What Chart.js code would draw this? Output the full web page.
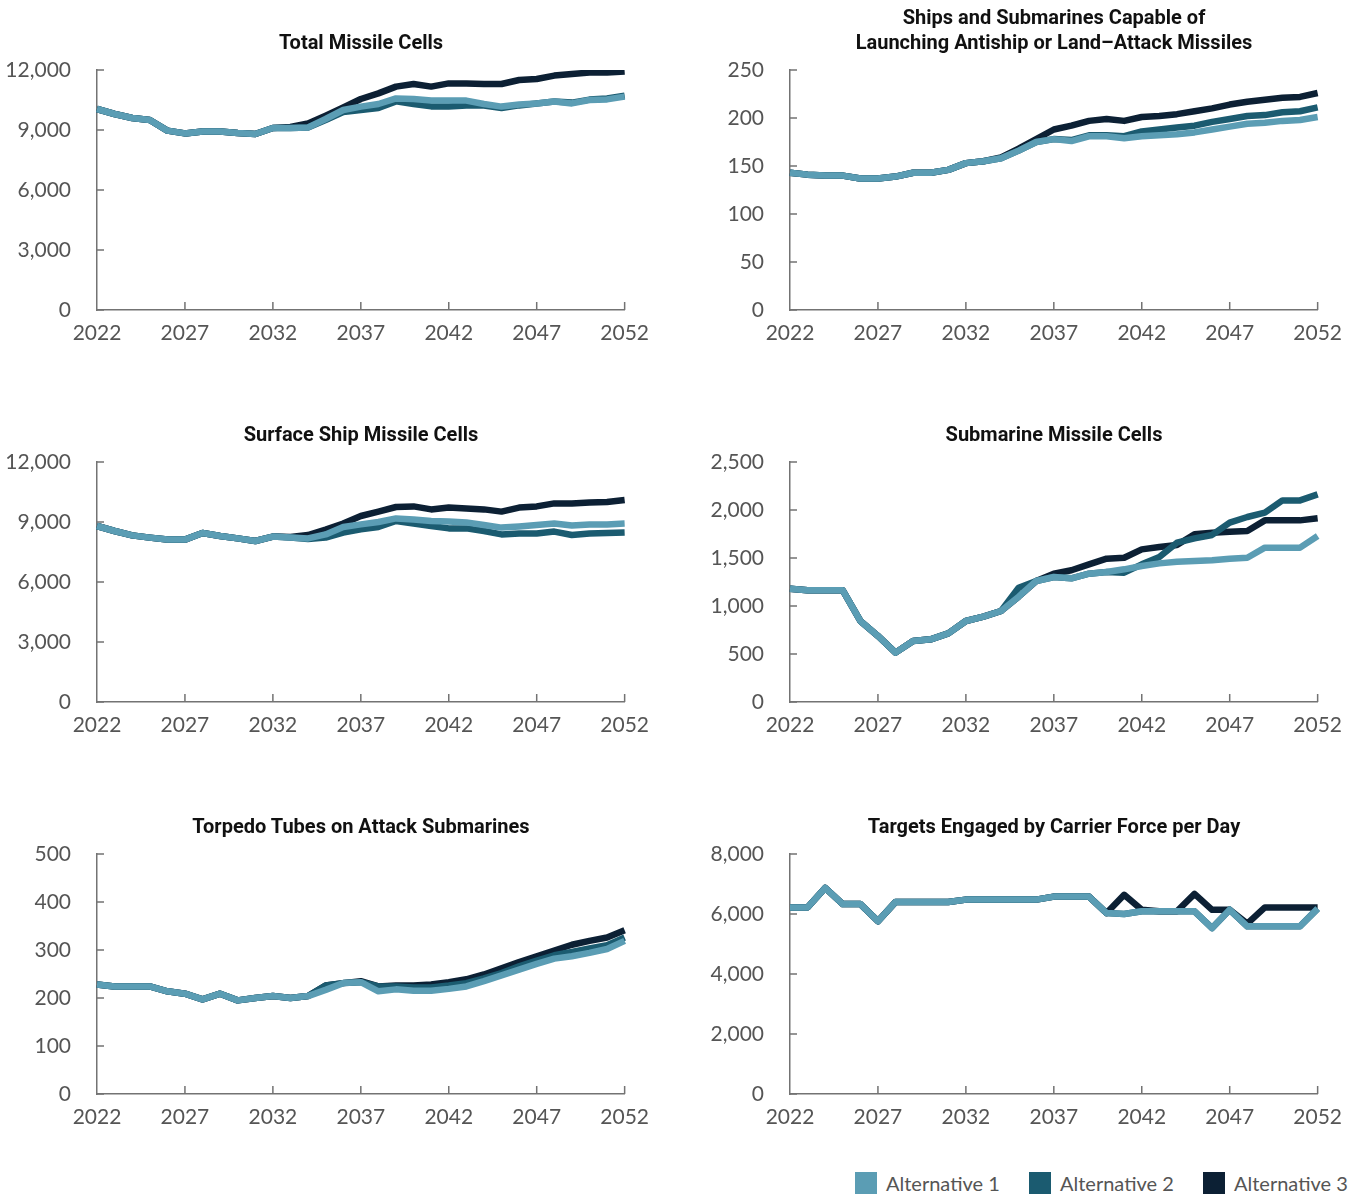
<!DOCTYPE html>
<html>
<head>
<meta charset="utf-8">
<script src="https://cdn.jsdelivr.net/npm/chart.js@4/dist/chart.umd.min.js"></script>
<style>
  body { margin: 0; background: #fff; }
  #wrap { position: relative; width: 1359px; height: 1196px; }
  .panel { position: absolute; width: 660px; height: 370px; }
  .title {
    position: absolute; width: 528px; left: 97px; text-align: center;
    font: 700 20px Roboto, sans-serif; color: #111; line-height: 25px;
  }
  .legend {
    position: absolute; left: 855px; top: 1171px; display: flex; white-space: nowrap;
    font: 400 20px Lato, sans-serif; color: #555;
  }
  .legend span.item { display: flex; align-items: center; flex: 0 0 174px; white-space: nowrap; }
  .legend i { display: inline-block; width: 22px; height: 22px; margin-right: 9px; }
</style>
</head>
<body>
<div id="wrap"></div>
<script>
const years = [];
for (let y = 2022; y <= 2052; y++) years.push(y);

const seriesNames = ['Alternative 1', 'Alternative 2', 'Alternative 3'];
const seriesColors = ['#5b9db4', '#1b5b70', '#0c2034'];

// Total Missile Cells
const totalCellsAlt1 = [10050, 9800, 9600, 9500, 8970, 8830, 8930, 8930, 8850, 8800, 9100, 9100, 9130, 9550, 10000, 10170, 10300, 10580, 10550, 10470, 10470, 10470, 10300, 10170, 10270, 10330, 10430, 10330, 10500, 10530, 10670];
const totalCellsAlt2 = [10050, 9800, 9600, 9500, 8970, 8830, 8930, 8930, 8850, 8800, 9100, 9100, 9130, 9500, 9900, 10000, 10100, 10430, 10300, 10180, 10170, 10220, 10220, 10100, 10230, 10330, 10430, 10370, 10520, 10580, 10720];
const totalCellsAlt3 = [10050, 9800, 9600, 9500, 8970, 8830, 8930, 8930, 8850, 8800, 9100, 9150, 9330, 9720, 10130, 10550, 10830, 11170, 11300, 11170, 11330, 11330, 11300, 11300, 11500, 11550, 11720, 11800, 11870, 11870, 11930];

// Ships and Submarines Capable of Launching Antiship or Land-Attack Missiles
const shipsAlt1 = [143, 141, 140, 140, 137, 137, 139, 143, 143, 146, 153, 155, 158, 166, 175, 178, 176, 181, 181, 179, 181, 182, 183, 185, 188, 191, 194, 195, 197, 198, 201];
const shipsAlt2 = [143, 141, 140, 140, 137, 137, 139, 143, 143, 146, 153, 155, 158, 166, 175, 178, 177, 182, 182, 181, 186, 188, 190, 192, 196, 199, 202, 203, 206, 207, 211];
const shipsAlt3 = [143, 141, 140, 140, 137, 137, 139, 143, 143, 146, 153, 155, 159, 168, 178, 188, 192, 197, 199, 197, 201, 202, 204, 207, 210, 214, 217, 219, 221, 222, 226];

// Surface Ship Missile Cells
const surfaceAlt1 = [8800, 8550, 8330, 8220, 8120, 8120, 8450, 8300, 8180, 8050, 8270, 8220, 8180, 8380, 8750, 8880, 9000, 9180, 9130, 9050, 9020, 8980, 8850, 8720, 8780, 8850, 8920, 8820, 8880, 8880, 8920];
const surfaceAlt2 = [8800, 8550, 8330, 8220, 8120, 8120, 8450, 8300, 8180, 8050, 8270, 8220, 8150, 8220, 8470, 8630, 8750, 9050, 8920, 8800, 8680, 8680, 8550, 8380, 8430, 8420, 8520, 8350, 8420, 8450, 8480];
const surfaceAlt3 = [8800, 8550, 8330, 8220, 8120, 8120, 8450, 8300, 8180, 8050, 8270, 8250, 8350, 8620, 8920, 9300, 9520, 9750, 9780, 9630, 9720, 9670, 9630, 9520, 9720, 9780, 9930, 9920, 9970, 10000, 10100];

// Submarine Missile Cells
const subCellsAlt1 = [1180, 1163, 1163, 1163, 844, 688, 514, 635, 653, 715, 844, 889, 948, 1097, 1260, 1302, 1288, 1337, 1354, 1382, 1417, 1444, 1462, 1469, 1476, 1493, 1503, 1608, 1608, 1608, 1729];
const subCellsAlt2 = [1180, 1163, 1163, 1163, 844, 688, 514, 635, 653, 715, 844, 889, 948, 1190, 1260, 1302, 1288, 1337, 1354, 1347, 1434, 1510, 1660, 1705, 1740, 1868, 1927, 1972, 2100, 2100, 2163];
const subCellsAlt3 = [1180, 1163, 1163, 1163, 844, 688, 514, 635, 653, 715, 844, 889, 948, 1097, 1260, 1337, 1372, 1434, 1493, 1503, 1590, 1615, 1635, 1747, 1764, 1774, 1781, 1892, 1892, 1892, 1913];

// Torpedo Tubes on Attack Submarines
const torpedoAlt1 = [228, 224, 224, 224, 214, 209, 197, 209, 195, 200, 204, 200, 204, 217, 231, 233, 214, 218, 215, 215, 219, 224, 235, 247, 259, 271, 282, 287, 294, 302, 319];
const torpedoAlt2 = [228, 224, 224, 224, 214, 209, 197, 209, 195, 200, 204, 200, 204, 226, 231, 233, 224, 224, 222, 222, 226, 231, 241, 252, 266, 278, 289, 296, 303, 310, 326];
const torpedoAlt3 = [228, 224, 224, 224, 214, 209, 197, 209, 195, 200, 204, 200, 204, 226, 231, 235, 224, 226, 226, 228, 233, 239, 249, 262, 275, 287, 299, 311, 319, 326, 341];

// Targets Engaged by Carrier Force per Day
const targetsAlt1 = [6220, 6220, 6870, 6330, 6330, 5760, 6400, 6400, 6400, 6400, 6480, 6480, 6480, 6480, 6480, 6580, 6580, 6580, 6030, 6000, 6090, 6090, 6090, 6090, 5530, 6140, 5590, 5590, 5590, 5590, 6180];
const targetsAlt2 = [6220, 6220, 6870, 6330, 6330, 5760, 6400, 6400, 6400, 6400, 6480, 6480, 6480, 6480, 6480, 6580, 6580, 6580, 6030, 6000, 6090, 6090, 6090, 6090, 5530, 6140, 5590, 5590, 5590, 5590, 6180];
const targetsAlt3 = [6220, 6220, 6870, 6330, 6330, 5760, 6400, 6400, 6400, 6400, 6480, 6480, 6480, 6480, 6480, 6580, 6580, 6580, 6030, 6640, 6140, 6090, 6090, 6670, 6140, 6140, 5680, 6220, 6220, 6220, 6220];

const panels = [
  { title: ['Total Missile Cells'], left: 0, top: 0, max: 12000, step: 3000, data: [totalCellsAlt1, totalCellsAlt2, totalCellsAlt3] },
  { title: ['Ships and Submarines Capable of', 'Launching Antiship or Land\u2013Attack Missiles'], left: 693, top: 0, max: 250, step: 50, data: [shipsAlt1, shipsAlt2, shipsAlt3] },
  { title: ['Surface Ship Missile Cells'], left: 0, top: 392, max: 12000, step: 3000, data: [surfaceAlt1, surfaceAlt2, surfaceAlt3] },
  { title: ['Submarine Missile Cells'], left: 693, top: 392, max: 2500, step: 500, data: [subCellsAlt1, subCellsAlt2, subCellsAlt3] },
  { title: ['Torpedo Tubes on Attack Submarines'], left: 0, top: 784, max: 500, step: 100, data: [torpedoAlt1, torpedoAlt2, torpedoAlt3] },
  { title: ['Targets Engaged by Carrier Force per Day'], left: 693, top: 784, max: 8000, step: 2000, data: [targetsAlt1, targetsAlt2, targetsAlt3] }
];

const axisColor = '#737373';

// short tick marks drawn inward from the axes
const innerTicks = {
  id: 'innerTicks',
  afterDraw(chart) {
    const { ctx, chartArea, scales } = chart;
    ctx.save();
    ctx.strokeStyle = axisColor;
    ctx.lineWidth = 1.5;
    ctx.beginPath();
    scales.y.ticks.forEach(t => {
      const py = scales.y.getPixelForValue(t.value);
      ctx.moveTo(chartArea.left, py);
      ctx.lineTo(chartArea.left + 7, py);
    });
    years.forEach((yr, i) => {
      if (i % 5 !== 0 || i === 0) return;
      const px = scales.x.getPixelForValue(i);
      ctx.moveTo(px, chartArea.bottom);
      ctx.lineTo(px, chartArea.bottom - 8);
    });
    ctx.stroke();
    ctx.restore();
  }
};

const wrap = document.getElementById('wrap');

panels.forEach(p => {
  const box = document.createElement('div');
  box.className = 'panel';
  box.style.left = p.left + 'px';
  box.style.top = p.top + 'px';
  const canvas = document.createElement('canvas');
  canvas.width = 660;
  canvas.height = 370;
  box.appendChild(canvas);
  const title = document.createElement('div');
  title.className = 'title';
  title.style.top = (p.title.length === 2 ? 5 : 30) + 'px';
  title.innerHTML = p.title.join('<br>');
  box.appendChild(title);
  wrap.appendChild(box);

  new Chart(canvas.getContext('2d'), {
    type: 'line',
    data: {
      labels: years,
      datasets: p.data.map((vals, i) => ({
        label: seriesNames[i],
        data: vals,
        borderColor: seriesColors[i],
        backgroundColor: seriesColors[i],
        borderWidth: 6.5,
        pointRadius: 0,
        tension: 0,
        borderJoinStyle: 'round',
        fill: false
      }))
    },
    options: {
      responsive: false,
      animation: false,
      layout: { padding: { top: 70, right: 35, bottom: 0, left: 0 } },
      plugins: { legend: { display: false }, tooltip: { enabled: false } },
      scales: {
        x: {
          offset: false,
          afterFit: s => { s.height = 60; },
          grid: { display: false, drawTicks: false },
          border: { display: true, color: axisColor, width: 1.5 },
          ticks: {
            autoSkip: false,
            maxRotation: 0,
            padding: 11,
            color: '#555',
            font: { family: 'Lato', size: 21 },
            callback: (v, i) => (i % 5 === 0 ? years[i] : null)
          }
        },
        y: {
          min: 0,
          max: p.max,
          afterFit: s => { s.width = 97; },
          grid: { display: false, drawTicks: false },
          border: { display: true, color: axisColor, width: 1.5 },
          ticks: {
            stepSize: p.step,
            padding: 26,
            color: '#555',
            font: { family: 'Lato', size: 21 },
            callback: v => v.toLocaleString('en-US')
          }
        }
      }
    },
    plugins: [innerTicks]
  });
});

// legend
const legend = document.createElement('div');
legend.className = 'legend';
seriesNames.forEach((name, i) => {
  const item = document.createElement('span');
  item.className = 'item';
  item.innerHTML = '<i style="background:' + seriesColors[i] + '"></i>' + name;
  legend.appendChild(item);
});
wrap.appendChild(legend);
</script>
</body>
</html>
